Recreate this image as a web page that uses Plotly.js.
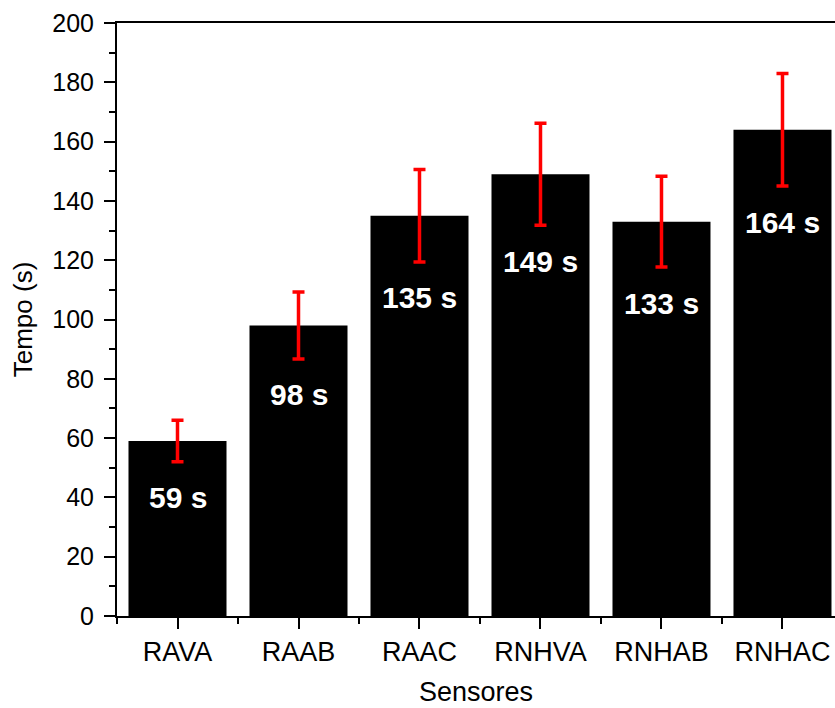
<!DOCTYPE html>
<html>
<head>
<meta charset="utf-8">
<script src="https://cdn.plot.ly/plotly-3.0.1.min.js"></script>
<style>html,body{margin:0;padding:0;background:#fff;}#chart{width:835px;height:708px;}</style>
</head>
<body>
<div id="chart"></div>
<script>
const categories = ["RAVA", "RAAB", "RAAC", "RNHVA", "RNHAB", "RNHAC"];
const times = [59, 98, 135, 149, 133, 164];
const errors = [7, 11.3, 15.6, 17.2, 15.3, 19];
const labels = ["59 s", "98 s", "135 s", "149 s", "133 s", "164 s"];

const xs = categories.map((_, i) => i);
const FAM = 'Liberation Sans, Arial, sans-serif';

const trace = {
  type: 'bar',
  x: xs,
  y: times,
  width: 0.81,
  marker: {color: '#000000', line: {width: 0}},
  error_y: {type: 'data', array: errors, visible: true, color: '#ff0000', thickness: 3.5, width: 6},
  hoverinfo: 'skip'
};

const annotations = xs.map((x, i) => ({
  x: x, y: times[i] - errors[i], xref: 'x', yref: 'y',
  text: labels[i], showarrow: false, yanchor: 'middle', yshift: -36,
  font: {family: FAM, size: 30, color: '#ffffff', weight: 'bold'}
}));

const layout = {
  width: 835, height: 708,
  margin: {l: 117, r: 0, t: 23, b: 92},
  paper_bgcolor: '#fff', plot_bgcolor: '#fff',
  showlegend: false,
  font: {family: FAM, size: 25, color: '#000'},
  xaxis: {
    range: [-0.5, 5.434],
    tickmode: 'array', tickvals: xs, ticktext: categories,
    ticks: 'outside', ticklen: 11, tickwidth: 2, tickcolor: '#000',
    showline: true, linewidth: 2, linecolor: '#000', mirror: true,
    showgrid: false, zeroline: false,
    tickfont: {family: FAM, size: 27, color: '#000'},
    minor: {tickmode: 'linear', tick0: -0.5, dtick: 1, ticks: 'outside', ticklen: 6, tickwidth: 2, tickcolor: '#000', showgrid: false},
    title: {text: 'Sensores', font: {family: FAM, size: 27, color: '#000'}, standoff: 16}
  },
  yaxis: {
    range: [0, 200],
    tickmode: 'linear', tick0: 0, dtick: 20,
    ticks: 'outside', ticklen: 11, tickwidth: 2, tickcolor: '#000',
    showline: true, linewidth: 2, linecolor: '#000',
    showgrid: false, zeroline: false,
    ticklabelstandoff: 5,
    tickfont: {family: FAM, size: 25, color: '#000'},
    minor: {tickmode: 'linear', tick0: 0, dtick: 10, ticks: 'outside', ticklen: 6, tickwidth: 2, tickcolor: '#000', showgrid: false},
    title: {text: 'Tempo (s)', font: {family: FAM, size: 26, color: '#000'}, standoff: 12}
  },
  annotations: annotations
};

Plotly.newPlot('chart', [trace], layout, {displayModeBar: false, staticPlot: true});
</script>
</body>
</html>
